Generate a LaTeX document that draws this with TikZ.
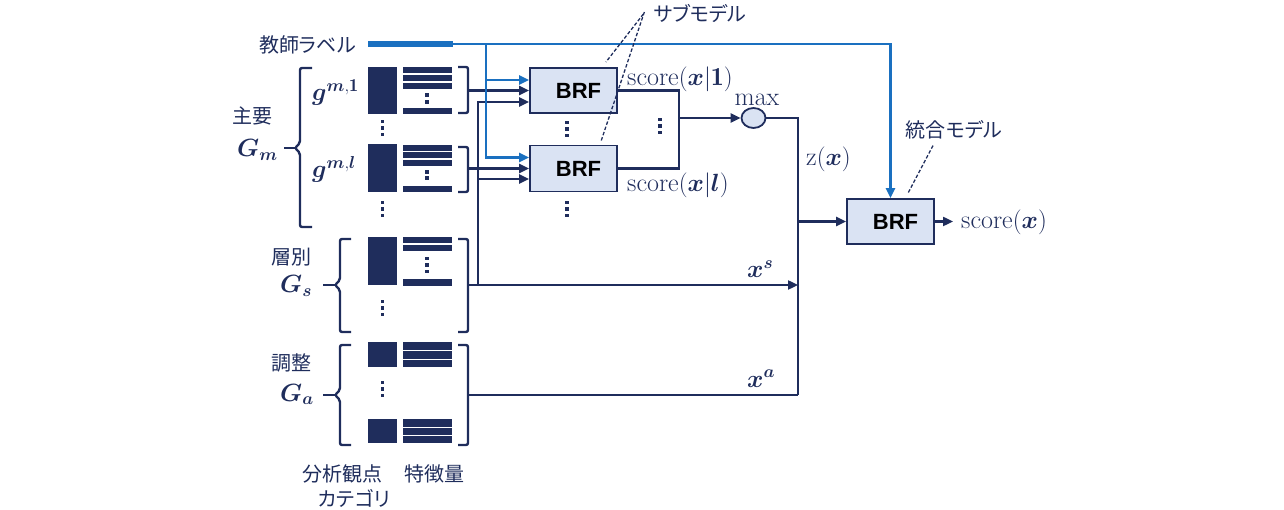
\documentclass[tikz,border=0pt]{standalone}
\usepackage{fontspec}
\usepackage{amsmath,bm}
\newfontfamily\jp[RawFeature=+palt]{Noto Sans CJK JP}
\newfontfamily\brffont{Liberation Sans}
\usetikzlibrary{arrows.meta,shapes.geometric}
\definecolor{navy}{HTML}{1F2D5C}
\definecolor{pblue}{HTML}{1A70C0}
\definecolor{boxfill}{HTML}{DAE3F3}
\begin{document}
\begin{tikzpicture}[x=1pt,y=-1pt,
  ln/.style={navy, line width=2.3pt},
  bl/.style={pblue, line width=2.3pt},
  arr/.style={-{Triangle[length=10pt,width=9pt]}},
  brfbox/.style={draw=navy, fill=boxfill, line width=1.8pt, minimum width=87pt, minimum height=45pt, inner sep=0pt, font=\brffont\bfseries\fontsize{22}{26}\selectfont, text=black},
  blk/.style={fill=navy, inner sep=0pt, minimum width=29pt},
  jl/.style={font=\jp\fontsize{20}{24}\selectfont, text=navy, inner sep=0pt},
  ml/.style={font=\fontsize{26}{30}\selectfont, text=navy, inner sep=0pt},
  brk/.style={navy, line width=2.4pt, rounded corners=2pt},
  dsh/.style={navy, line width=1.3pt, dash pattern=on 3.5pt off 2pt},
  vdthree/.pic={\fill[navy] (-1.9,-8.4) rectangle (1.9,-4.6); \fill[navy] (-1.9,-1.9) rectangle (1.9,1.9); \fill[navy] (-1.9,4.6) rectangle (1.9,8.4);},
  vdtwo/.pic={\fill[navy] (-1.9,-5.2) rectangle (1.9,-1.4); \fill[navy] (-1.9,1.4) rectangle (1.9,5.2);}
]
\useasboundingbox (0,0) rectangle (1284,510);

% ---- teacher label ----
\node[jl, anchor=east] (tl) at (356,45) {教師ラベル};
\node[fill=pblue, minimum width=85pt, minimum height=6pt, inner sep=0pt] (tb) at (410.5,44) {};

% ---- category blocks ----
\node[blk, minimum height=47pt] (c1) at (382.5,90.5) {};
\node[blk, minimum height=48pt] (c2) at (382.5,168) {};
\node[blk, minimum height=48pt] (c3) at (382.5,261) {};
\node[blk, minimum height=25pt] (c4) at (382.5,354.5) {};
\node[blk, minimum height=24pt] (c5) at (382.5,431) {};

% ---- feature bars ----
\fill[navy] (403,67) rectangle (452,73.5);
\fill[navy] (403,75) rectangle (452,81.5);
\fill[navy] (403,83) rectangle (452,89.5);
\fill[navy] (403,108) rectangle (452,114);
\pic at (427,98.5) {vdtwo};

\fill[navy] (403,145) rectangle (452,151);
\fill[navy] (403,152.5) rectangle (452,158.5);
\fill[navy] (403,160) rectangle (452,166);
\fill[navy] (403,186) rectangle (452,192);
\pic at (427,175) {vdtwo};

\fill[navy] (403,237) rectangle (452,243.5);
\fill[navy] (403,245.5) rectangle (452,251.5);
\fill[navy] (403,279) rectangle (452,286);
\pic at (427,265) {vdthree};

\fill[navy] (403,342) rectangle (452,349.5);
\fill[navy] (403,351) rectangle (452,358.5);
\fill[navy] (403,360) rectangle (452,367);

\fill[navy] (403,419) rectangle (452,426.5);
\fill[navy] (403,428) rectangle (452,434.5);
\fill[navy] (403,436) rectangle (452,443);

% vertical dots
\pic at (382.5,128) {vdthree};
\pic at (382.5,209) {vdthree};
\pic at (382.5,308) {vdthree};
\pic at (382.5,389) {vdthree};
\pic at (567,129) {vdthree};
\pic at (567,209) {vdthree};
\pic at (660,126) {vdthree};

% ---- right brackets ----
\draw[brk] (458,67) -| (468,113) -- (458,113);
\draw[brk] (458,147) -| (468,192) -- (458,192);
\draw[brk] (458,239) -| (468,332) -- (458,332);
\draw[brk] (458,345) -| (468,445) -- (458,445);
\coordinate (o1) at (468,90.5);
\coordinate (o2) at (468,168.5);
\coordinate (os) at (468,285);
\coordinate (oa) at (468,395);

% ---- left braces ----
\draw[brk] (312,68) -- (300,68) -- (300,143) -- (295,148) -- (300,153) -- (300,227) -- (312,227);
\draw[brk] (284,148) -- (295,148);
\draw[brk] (351,239) -- (340,239) -- (340,280) -- (335,285) -- (340,290) -- (340,332) -- (351,332);
\draw[brk] (323,285) -- (335,285);
\draw[brk] (351,345) -- (340,345) -- (340,390) -- (335,395) -- (340,400) -- (340,445) -- (351,445);
\draw[brk] (323,395) -- (335,395);

% ---- group labels ----
\node[jl] (lm) at (252,116) {主要};
\node[ml, anchor=base west] (gm) at (237,157) {$\bm{G}_{\bm{m}}$};
\node[ml, anchor=base west] (g1) at (312,101) {$\bm{g}^{\bm{m},\mathbf{1}}$};
\node[ml, anchor=base west] (gl) at (312,178) {$\bm{g}^{\bm{m},\bm{l}}$};
\node[jl] (ls) at (291,257) {層別};
\node[ml, anchor=base west] (gs) at (280,293) {$\bm{G}_{\bm{s}}$};
\node[jl] (la) at (291,363) {調整};
\node[ml, anchor=base west] (ga) at (280,401) {$\bm{G}_{\bm{a}}$};
\node[jl] (lc1) at (342,474) {分析観点};
\node[jl] (lc2) at (354,498) {カテゴリ};
\node[jl] (lf) at (434,474) {特徴量};

% ---- BRF boxes ----
\node[brfbox] (b1) at (573.5,90.5) {\hspace*{10pt}BRF};
\node[brfbox, minimum height=46pt] (b2) at (573.5,168.5) {\hspace*{10pt}BRF};
\node[brfbox] (b3) at (890.5,221.5) {\hspace*{10pt}BRF};
\node[ellipse, draw=navy, fill=boxfill, line width=1.8pt, minimum width=24pt, minimum height=20pt, inner sep=0pt] (mx) at (753.5,118) {};

% ---- inputs to sub-models ----
\draw[ln,arr] (o1) -- (o1 -| b1.west);
\draw[ln,arr] (o2) -- (o2 -| b2.west);
\draw[ln,arr] (os) -- (798,285);
\coordinate (js) at (478,285);
\draw[ln,arr] (js) |- ([yshift=-11.5pt]b1.west);
\draw[ln,arr] (js) |- ([yshift=-10.5pt]b2.west);
\draw[ln] (oa) -- (798,395);

% ---- teacher signal ----
\coordinate (tj) at (486,44);
\draw[bl,arr] (tb.east) -| (b3.north);
\draw[bl,arr] (tj) |- ([yshift=11pt]b2.west);
\draw[bl,arr] (tj) |- ([yshift=10.5pt]b1.west);

% ---- outputs ----
\coordinate (mrg) at (679,118);
\draw[ln] (b1.east) -| (mrg) |- (b2.east);
\draw[ln,arr] (mrg) -- (mx.west);
\coordinate (vbot) at (798,395);
\draw[ln] (mx.east) -| (vbot);
\draw[ln,arr] (b3.west -| vbot) -- (b3.west);
\coordinate (sout) at (953,221.5);
\draw[ln,arr] (b3.east) -- (sout);

% ---- output labels ----
\node[ml, anchor=base west] (s1) at (627,86) {$\mathrm{score}(\bm{x}|\mathbf{1})$};
\node[ml, anchor=base west] (sl) at (627,192) {$\mathrm{score}(\bm{x}|\bm{l})$};
\node[ml, anchor=base] (mxl) at (757,106) {$\mathrm{max}$};
\node[ml, anchor=base west] (zl) at (806,166) {$\mathrm{z}(\bm{x})$};
\node[ml, anchor=base west] (xs) at (747,278) {$\bm{x}^{\bm{s}}$};
\node[ml, anchor=base west] (xa) at (747,387) {$\bm{x}^{\bm{a}}$};
\node[ml, anchor=base west] (so) at (961,229) {$\mathrm{score}(\bm{x})$};

% ---- model annotations ----
\node[jl] (sub) at (700,14) {サブモデル};
\draw[dsh] ([xshift=-10pt]sub.west) -- ([xshift=-12pt,yshift=5pt]b1.north east);
\draw[dsh] ([xshift=-9pt,yshift=2pt]sub.west) -- ([xshift=-17pt,yshift=3pt]b2.north east);
\node[jl] (int) at (954,130) {統合モデル};
\draw[dsh] ([xshift=-21pt,yshift=-6pt]int.south) -- ([xshift=17pt,yshift=4pt]b3.north);
\end{tikzpicture}
\end{document}
